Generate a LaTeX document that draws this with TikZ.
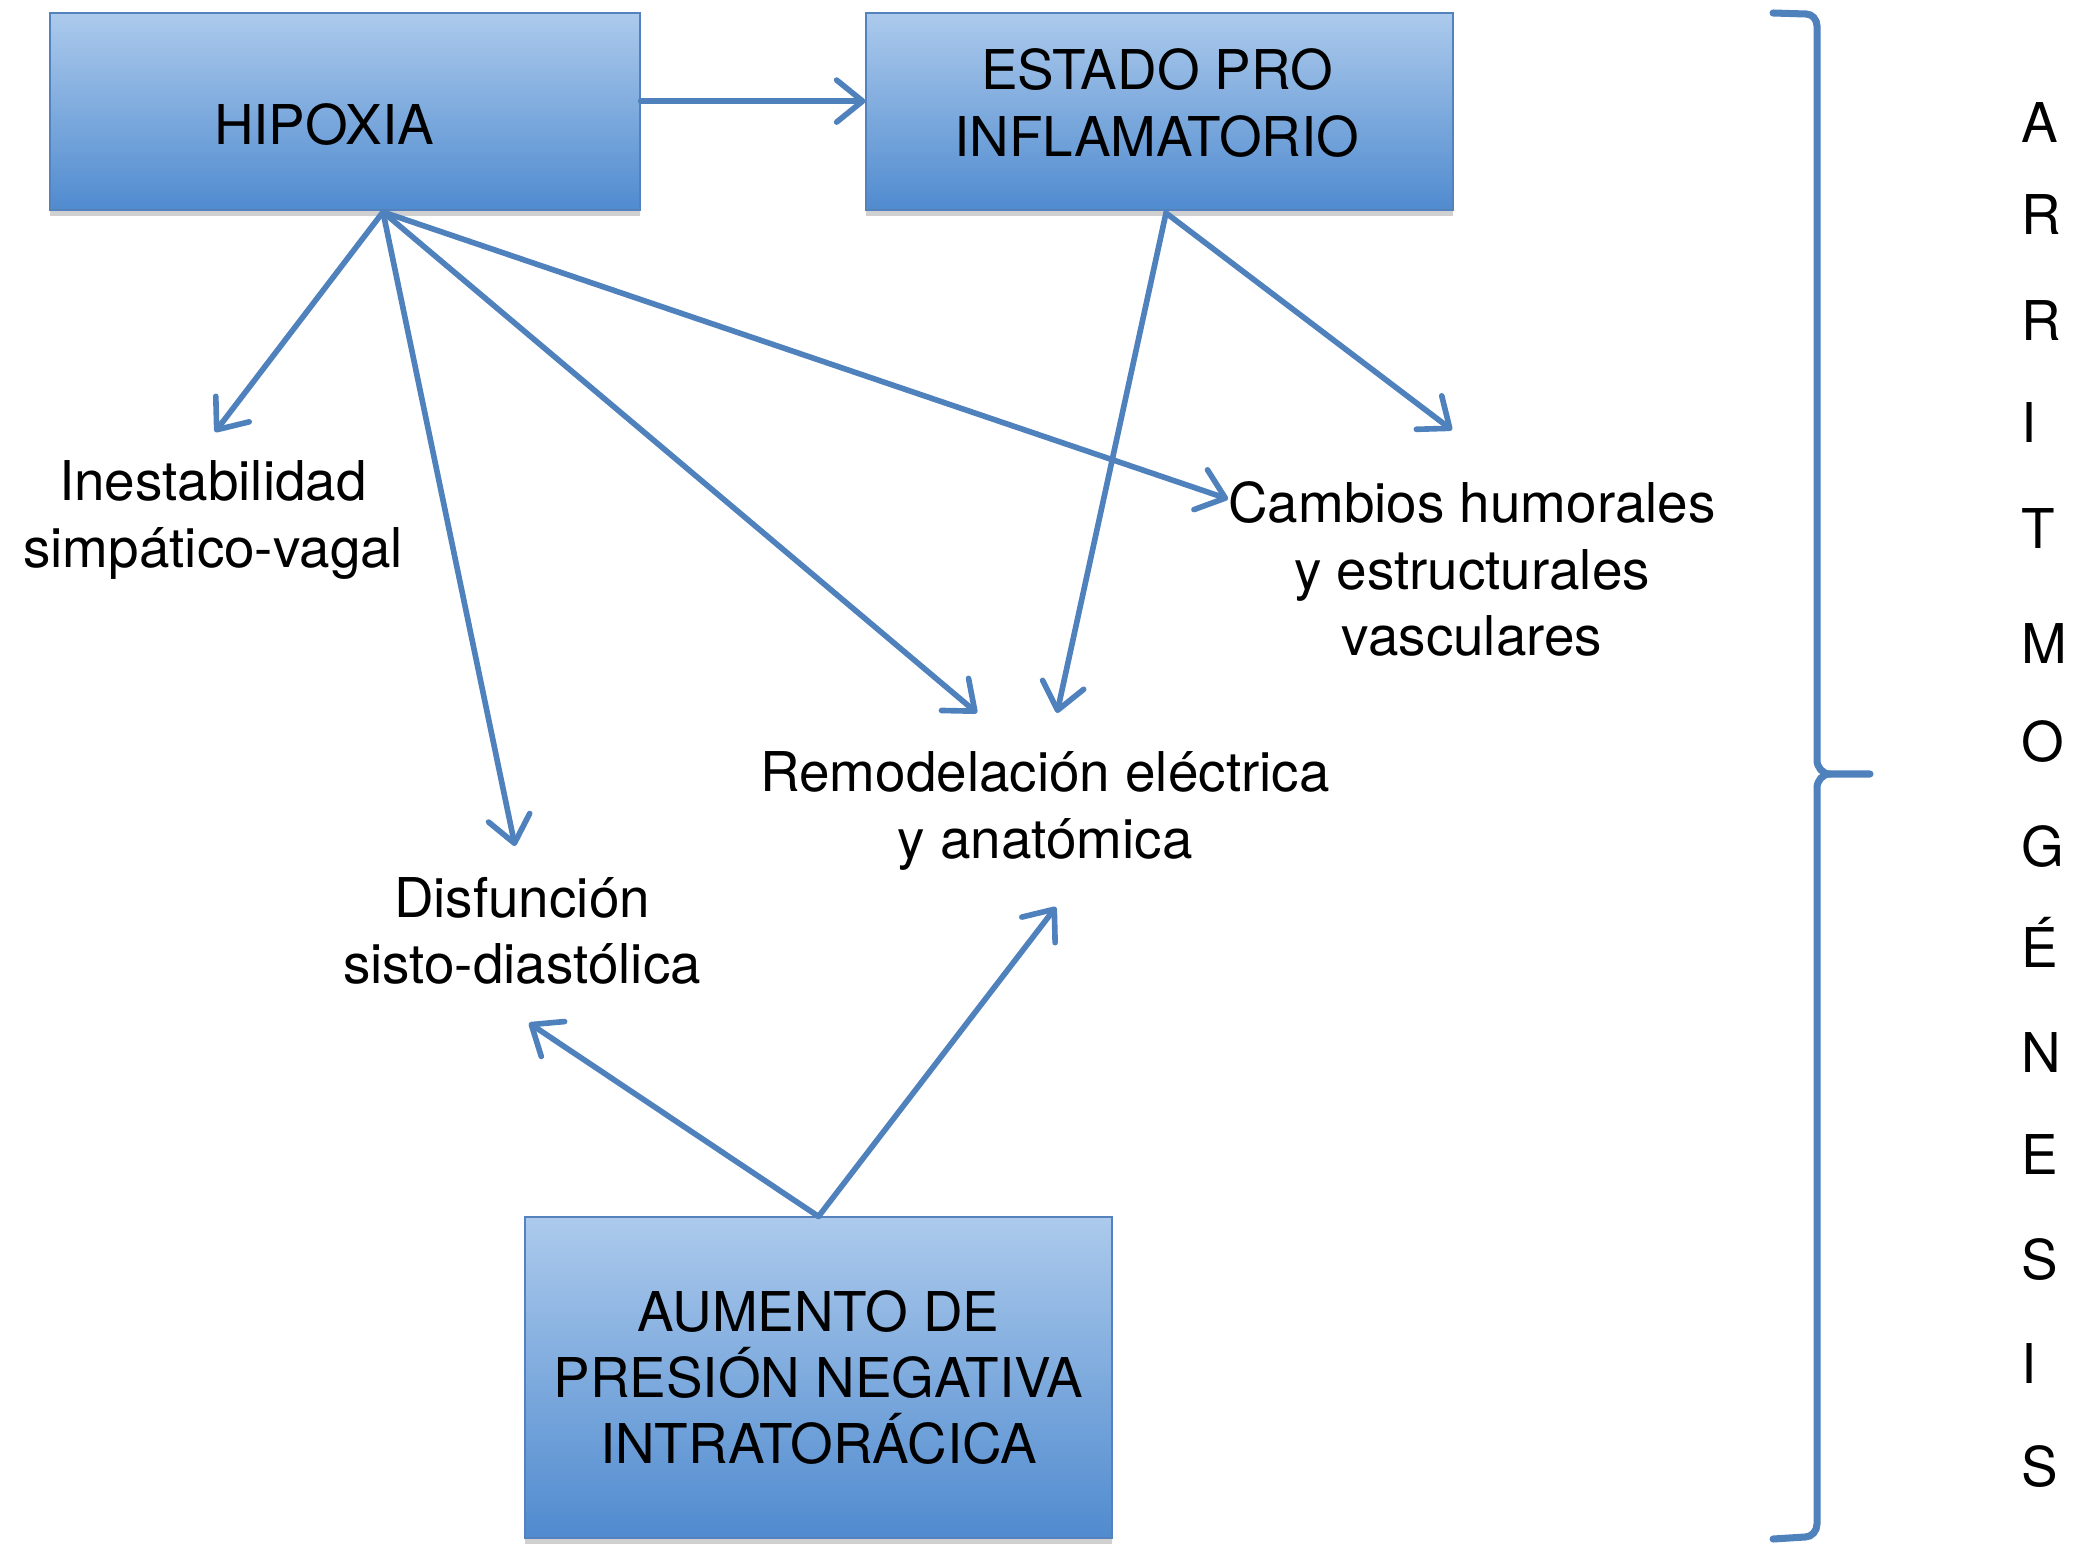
\documentclass[tikz,border=0pt]{standalone}
\usepackage{fontspec}
\setmainfont{TeX Gyre Heros}
\usetikzlibrary{arrows.meta,shadows}
\definecolor{arrowblue}{RGB}{79,129,189}
\definecolor{boxtop}{RGB}{172,202,236}
\definecolor{boxbot}{RGB}{80,139,207}
\definecolor{boxedge}{RGB}{84,130,190}
\newcommand\dgfont{\fontsize{39}{47}\selectfont}
\begin{document}
\begin{tikzpicture}[x=0.25mm,y=-0.25mm,
  bigbox/.style={draw=boxedge, line width=0.8pt, top color=boxtop, bottom color=boxbot,
    inner sep=0pt, align=center, font=\dgfont,
    drop shadow={shadow xshift=0mm,shadow yshift=-1.6mm,opacity=0.3,fill=black!60}},
  lbl/.style={align=center, font=\dgfont, inner sep=0pt},
  link/.style={draw=arrowblue, line width=4pt, line cap=round,
    -{Straight Barb[length=6.5mm,width=10.5mm,round]}},
  brace/.style={draw=arrowblue, line width=5pt, line cap=round},
  letter/.style={anchor=base west, font=\dgfont, inner sep=0pt}]

\fill[white] (0,0) rectangle (2083,1556);
\useasboundingbox (0,0) rectangle (2083,1556);

% boxes
\node[bigbox, minimum width=147.5mm, minimum height=49.25mm] (hip) at (345,111.5) {};
\node[lbl] (hiptxt) at (324,125) {HIPOXIA};
\node[bigbox, minimum width=146.75mm, minimum height=49.25mm] (est) at (1159.5,111.5) {};
\node[lbl] (esttxt) at (1157,103) {ESTADO PRO\\INFLAMATORIO};
\node[bigbox, minimum width=146.75mm, minimum height=80.25mm] (aum) at (818.5,1377.5) {AUMENTO DE\\PRESIÓN NEGATIVA\\INTRATORÁCICA};

% labels
\node[lbl] (ines) at (213,520) {Inestabilidad\\simpático-vagal};
\node[lbl] (camb) at (1472,569) {Cambios humorales\\y estructurales\\vasculares};
\node[lbl] (remo) at (1045,811) {Remodelación eléctrica\\y anatómica};
\node[lbl] (disf) at (522,931) {Disfunción\\sisto-diastólica};

% arrow ends
\coordinate (hs) at (383,212);
\coordinate (es) at (1166,213);
\coordinate (tines) at (215,432);
\coordinate (tdisf) at (515,846);
\coordinate (tremoA) at (977,713);
\coordinate (tcambA) at (1228,499);
\coordinate (tremoB) at (1057,713);
\coordinate (tcambB) at (1452,430);
\coordinate (tdisfC) at (529,1023);
\coordinate (tremoC) at (1056,907);

% connectors
\draw[link] ([yshift=2.6mm]hip.east) -- ([yshift=2.6mm]est.west);
\draw[link] (hs) -- (tines);
\draw[link] (hs) -- (tdisf);
\draw[link] (hs) -- (tremoA);
\draw[link] (hs) -- (tcambA);
\draw[link] (es) -- (tremoB);
\draw[link] (es) -- (tcambB);
\draw[link] (aum.north) -- (tdisfC);
\draw[link] (aum.north) -- (tremoC);

% bracket
\draw[brace] (1773,13) -- (1806,14) to[out=0,in=90] (1817,26) -- (1817,760)
  to[out=-90,in=180] (1830,774) -- (1870,774);
\draw[brace] (1830,774) to[out=180,in=90] (1817,788) -- (1817,1524)
  to[out=-90,in=0] (1805,1537) -- (1773,1539);

% vertical word
\foreach \ch/\yb [count=\i] in {A/143,R/235,R/341,I/442,T/548,M/663,O/761,G/866,É/967,N/1072,E/1174,S/1279,I/1383,S/1486}
  \node[letter] (w\i) at (2021,\yb) {\ch};
\end{tikzpicture}
\end{document}
